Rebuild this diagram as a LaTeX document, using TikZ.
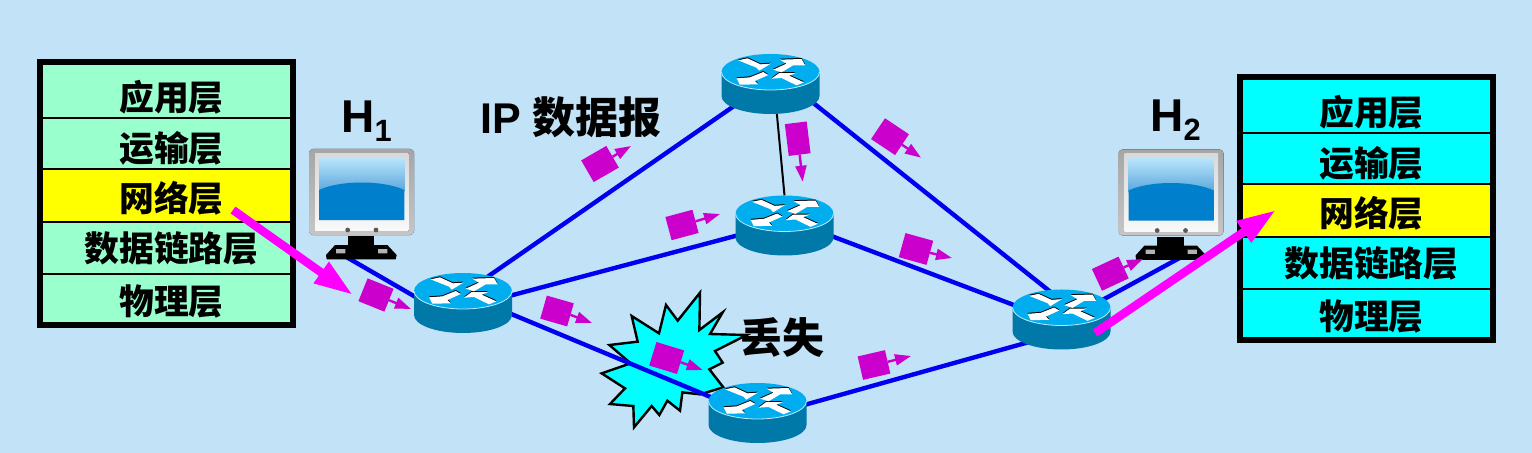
\documentclass[tikz,border=0pt]{standalone}
\usepackage{fontspec}
\setmainfont{Liberation Sans}
\newfontfamily\cjk{Noto Sans CJK SC}
\usetikzlibrary{positioning, fit, arrows.meta}
\definecolor{bgblue}{HTML}{C2E2F8}
\definecolor{lgreen}{HTML}{99FFCC}
\definecolor{lcyan}{HTML}{00FFFF}
\definecolor{lyellow}{HTML}{FFFF00}
\definecolor{arrmag}{HTML}{FF00FF}
\definecolor{linkblue}{HTML}{0000F0}
\definecolor{pktcol}{HTML}{CC00CC}
\definecolor{rtop}{HTML}{00AEEF}
\definecolor{rside}{HTML}{0078A8}
\definecolor{scrtop}{HTML}{B8E4FB}
\definecolor{scrmid}{HTML}{5AA6DC}
\definecolor{scrlow}{HTML}{0080CC}

\begin{document}
\begin{tikzpicture}[
  x=0.5pt, y=-0.5pt,
  hub/.style={minimum width=49pt, minimum height=30pt, inner sep=0pt, outer sep=0pt},
  screenbox/.style={minimum width=52.5pt, minimum height=55pt, inner sep=0pt, outer sep=0pt},
  link/.style={linkblue, line width=2.2pt, shorten >=-8pt, shorten <=-8pt},
  layer/.style={draw, line width=0.8pt, inner sep=0pt, outer sep=0pt, align=center,
                text width=126.5pt, text depth=0pt,
                font=\fontsize{17.4}{18}\cjk\bfseries,
                execute at begin node=\hspace*{5pt}},
  frame/.style={draw, line width=3pt, inner sep=0pt},
  packet/.style={fill=pktcol, inner sep=0pt, outer sep=0pt},
  pktarr/.style={-{Triangle[length=8pt,width=5.5pt]}, pktcol, line width=1.2pt},
  bigarr/.style={-{Triangle[length=19.5pt,width=12pt]}, arrmag, line width=4.2pt},
  title/.style={font=\fontsize{23}{24}\bfseries, inner sep=0pt},
  router/.pic={
    \fill[rside] (-49,-12) -- (-49,12)
      arc[start angle=180, end angle=360, x radius=24.5pt, y radius=9pt] -- (49,-12) -- cycle;
    \fill[rtop] (0,-12) ellipse [x radius=24.5pt, y radius=9pt];
    \draw[white!75!rtop, line width=0.4pt] (-49,-12)
      arc[start angle=180, end angle=360, x radius=24.5pt, y radius=9pt];
    \begin{scope}[shift={(-70.67,-44.33)}, x=0.1667pt, y=-0.1667pt]
      \foreach \col/\off in {black/0.5pt, white/0pt} {
        \fill[\col, yshift=\off] (115,62) -- (143,56) -- (182,74) -- (213,72) -- (178,93) -- (170,84) -- cycle;
        \fill[\col, yshift=\off] (220,90) -- (260,72) -- (240,60) -- (305,58) -- (316,77) -- (280,77) -- (245,98) -- cycle;
        \fill[\col, yshift=\off] (190,97) -- (205,106) -- (165,124) -- (175,134) -- (120,135) -- (110,116) -- (150,113) -- cycle;
        \fill[\col, yshift=\off] (215,117) -- (238,100) -- (288,100) -- (268,108) -- (312,128) -- (290,137) -- (245,115) -- cycle;
      }
    \end{scope}
  },
  monitor/.pic={
    \begin{scope}[shift={(-61.5,-64)}, x=0.1667pt, y=-0.1667pt]
      \fill[top color=gray!70, bottom color=gray!45, rounded corners=2pt] (27,27) rectangle (342,285);
      \fill[top color=gray!30, bottom color=gray!5] (45,40) rectangle (326,272);
      \fill[top color=scrtop, bottom color=scrmid] (57,55) rectangle (313,155);
      \fill[scrlow] (57,240) -- (57,150) .. controls (120,120) and (250,120) .. (313,150) -- (313,240) -- cycle;
      \fill[gray!70!black] (143,270) circle (1.2pt) (228,270) circle (1.2pt);
      \fill[black] (143,288) rectangle (223,320);
      \fill[black] (105,315) -- (262,315) -- (290,345) -- (287,358) -- (80,358) -- (78,345) -- cycle;
      \fill[gray!60] (108,327) rectangle (136,340) (234,327) rectangle (262,340);
    \end{scope}
  },
]

\useasboundingbox (0,0) rectangle (1532,453);
\fill[bgblue] (0,0) rectangle (1532,453);

%% ---- Routers and hosts (anchors first, pictures later) ----

\node[hub] (r1) at (463,303) {};
\node[hub] (r2) at (770.5,84) {};
\node[hub] (r3) at (784.5,225.5) {};
\node[hub] (r4) at (757.5,413) {};
\node[hub] (r5) at (1061.5,319.5) {};
\node[screenbox] (h1) at (361.5,204) {};
\node[screenbox] (h2) at (1171,204.5) {};

%% ---- Burst behind the lost packet ----

\begin{scope}[shift={(590,280)}, x=0.1667pt, y=-0.1667pt]
  \filldraw[fill=lcyan, draw=black, line width=1.2pt]
    (330,38) -- (328,150) -- (398,97) -- (360,162) -- (470,165) -- (375,213)
    -- (398,248) -- (358,268) -- (400,322) -- (330,343) -- (277,337) -- (270,392)
    -- (232,362) -- (208,405) -- (185,378) -- (132,442) -- (130,378) -- (60,372)
    -- (105,325) -- (35,280) -- (122,250) -- (58,195) -- (143,185) -- (125,108)
    -- (207,160) -- (228,75) -- (263,122) -- cycle;
\end{scope}

%% ---- Links ----

\draw[link] (h1.258) -- (r1.172);
\draw[link] (r1.45)  -- (r2.212);
\draw[link] (r1.9)   -- (r3.192);
\draw[link] (r1.-13) -- (r4.161);
\draw[link] (r2.-26) -- (r5.115);
\draw[link] (r3.-13) -- (r5.163);
\draw[link] (r4.10)  -- (r5.209);
\draw[link] (r5.26)  -- (h2.276);
\draw[black, line width=1pt] (r2.-78) -- (r3.north);

\foreach \n in {r1,r2,r3,r4,r5} \pic at (\n) {router};
\foreach \n in {h1,h2} \pic at (\n) {monitor};

%% ---- Packets ----

\foreach \n/\x/\y/\ang/\w/\h/\tx/\ty in {
    p1/376/295/22/14/12.3/411/309,
    p2/600/164/-30/14.5/12.5/631/146,
    p3/682/225/-15/14/12/720/214,
    p4/797.7/138.7/83/16/11/802.7/181.7,
    p5/890/136.7/33.7/14.4/12.5/921/157.7,
    p6/916/249/15.5/14.4/12.5/952/258,
    p7/557/311/16/14/12/592/323,
    p8/666.7/358/17/14.5/12.3/702.7/370,
    p9/874/365/-13/14/12/911/356,
    p10/1110.3/273.7/-25/14.7/12/1143/259} {
  \node[packet, minimum width=\w pt, minimum height=\h pt, rotate=-\ang] (\n) at (\x,\y) {};
  \coordinate (\n tip) at (\tx,\ty);
  \draw[pktarr] (\n.east) -- (\n tip);
}

%% ---- Protocol stacks ----

\node[layer, fill=lgreen, minimum height=28pt, text height=20.5pt, anchor=north west] (lapp) at (40,62) {应用层};
\node[layer, fill=lgreen, minimum height=25.5pt, text height=18pt, below=0pt of lapp] (ltrans) {运输层};
\node[layer, fill=lyellow, minimum height=26.5pt, text height=16pt, below=0pt of ltrans] (lnet) {网络层};
\node[layer, fill=lgreen, minimum height=26pt, text height=14pt, below=0pt of lnet] (llink) {数据链路层};
\node[layer, fill=lgreen, minimum height=25.5pt, text height=15pt, below=0pt of llink] (lphy) {物理层};
\node[frame, fit=(lapp)(lphy)] (lstack) {};

\node[layer, fill=lcyan, minimum height=28pt, text height=20.5pt, anchor=north west] (rapp) at (1240,77) {应用层};
\node[layer, fill=lcyan, minimum height=25.5pt, text height=18pt, below=0pt of rapp] (rtrans) {运输层};
\node[layer, fill=lyellow, minimum height=26.5pt, text height=16pt, below=0pt of rtrans] (rnet) {网络层};
\node[layer, fill=lcyan, minimum height=26pt, text height=14pt, below=0pt of rnet] (rlink) {数据链路层};
\node[layer, fill=lcyan, minimum height=25.5pt, text height=15pt, below=0pt of rlink] (rphy) {物理层};
\node[frame, fit=(rapp)(rphy)] (rstack) {};

%% ---- Labels ----

\node[title, anchor=base west] (h1lab) at (341,133) {H\raisebox{-4.5pt}{\fontsize{15.4}{16}\selectfont 1}};
\node[title, anchor=base west] (h2lab) at (1150,132) {H\raisebox{-4.5pt}{\fontsize{15.4}{16}\selectfont 2}};
\node[title, font=\fontsize{21.5}{22}\bfseries, anchor=base west] (iplab) at (480,134) {IP {\cjk 数据报}};
\node[inner sep=0pt, font=\fontsize{21}{22}\cjk\bfseries] (lost) at (782,338) {丢失};

%% ---- Path through the network layers ----

\coordinate (lstart) at (233,210);
\coordinate (lend) at (353,295);
\coordinate (rstart) at (1095,333);
\coordinate (rend) at (1276,210);
\draw[bigarr] (lstart) -- (lend);
\draw[bigarr] (rstart) -- (rend);

\end{tikzpicture}
\end{document}
